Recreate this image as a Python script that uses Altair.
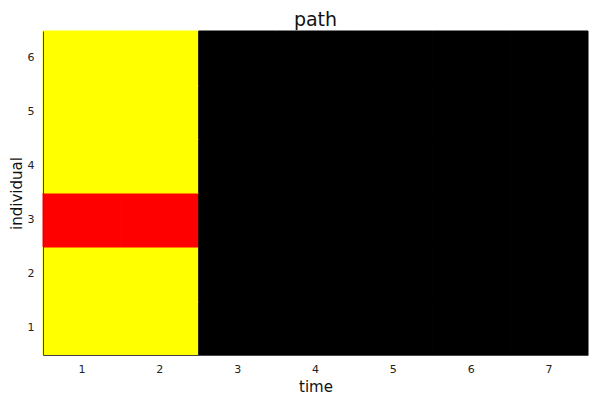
import pandas as pd
import altair as alt

times = [1, 2, 3, 4, 5, 6, 7]
individuals = [1, 2, 3, 4, 5, 6]
# state of each individual over time (one row per individual)
states = [
    ["yellow", "yellow", "black", "black", "black", "black", "black"],
    ["yellow", "yellow", "black", "black", "black", "black", "black"],
    ["red", "red", "black", "black", "black", "black", "black"],
    ["yellow", "yellow", "black", "black", "black", "black", "black"],
    ["yellow", "yellow", "black", "black", "black", "black", "black"],
    ["yellow", "yellow", "black", "black", "black", "black", "black"],
]
state_names = ["yellow", "red", "black"]
state_colors = ["#ffff00", "#ff0000", "#000000"]

rows = []
for i, ind in enumerate(individuals):
    for j, t in enumerate(times):
        rows.append({"time": t, "individual": ind, "state": states[i][j]})
df = pd.DataFrame(rows)

axis_style = dict(
    domainColor="#444444",
    ticks=False,
    labelColor="#222222",
    labelFontSize=11,
    labelFont="DejaVu Sans",
    titleFont="DejaVu Sans",
    titleFontSize=15,
    titleFontWeight="normal",
    titleColor="#111111",
    grid=False,
)

state_scale = alt.Scale(domain=state_names, range=state_colors)

chart = (
    alt.Chart(df)
    .mark_rect(strokeWidth=1)
    .encode(
        x=alt.X(
            "time:O",
            scale=alt.Scale(paddingInner=0, paddingOuter=0),
            axis=alt.Axis(title="time", labelAngle=0, labelPadding=8, titlePadding=5, **axis_style),
        ),
        y=alt.Y(
            "individual:O",
            sort="descending",
            scale=alt.Scale(paddingInner=0, paddingOuter=0),
            axis=alt.Axis(title="individual", labelPadding=9, titlePadding=3, **axis_style),
        ),
        color=alt.Color("state:N", scale=state_scale, legend=None),
        stroke=alt.Stroke("state:N", scale=state_scale, legend=None),
    )
    .properties(
        width=545,
        height=324,
        title=alt.TitleParams("path", fontSize=19, font="DejaVu Sans", fontWeight="normal", color="#111111", offset=1),
        autosize=alt.AutoSizeParams(type="none"),
        padding={"left": 35, "top": 23, "right": 4, "bottom": 45},
    )
    .configure_view(stroke=None)
)

chart.save("out.html", embed_options={"renderer": "svg", "actions": False})
